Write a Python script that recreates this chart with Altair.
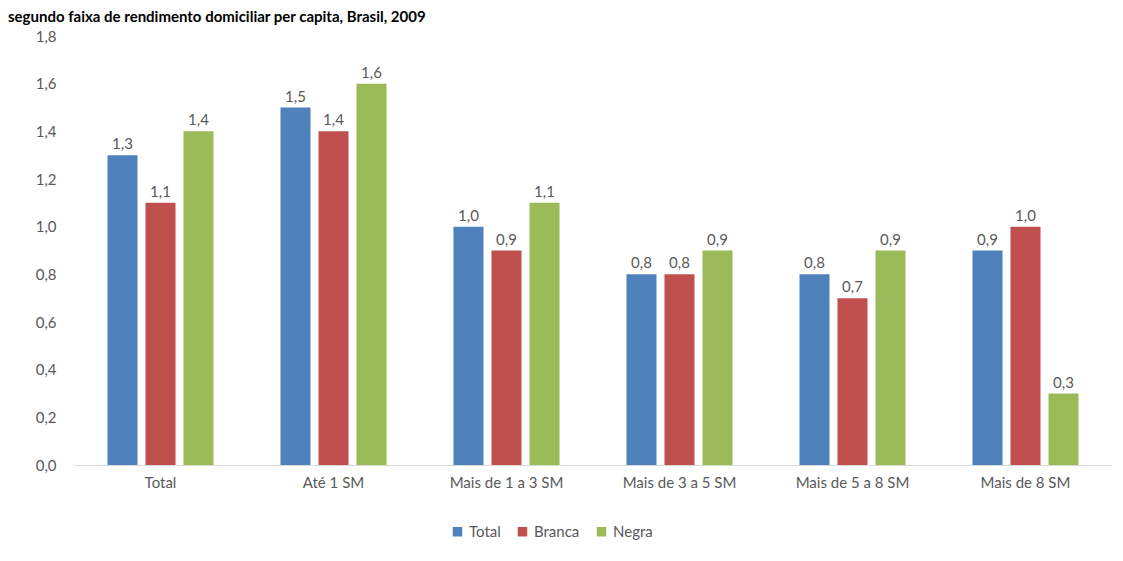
import altair as alt
import pandas as pd

categories = ["Total", "Até 1 SM", "Mais de 1 a 3 SM", "Mais de 3 a 5 SM", "Mais de 5 a 8 SM", "Mais de 8 SM"]
series = ["Total", "Branca", "Negra"]
total = [1.3, 1.5, 1.0, 0.8, 0.8, 0.9]
branca = [1.1, 1.4, 0.9, 0.8, 0.7, 1.0]
negra = [1.4, 1.6, 1.1, 0.9, 0.9, 0.3]
colors = ["#4F81BD", "#C0504D", "#9BBB59"]
title_text = "segundo faixa de rendimento domiciliar per capita, Brasil, 2009"

rows = []
for s, vals in zip(series, [total, branca, negra]):
    for c, v in zip(categories, vals):
        rows.append({"cat": c, "serie": s, "valor": v, "rotulo": f"{v:.1f}".replace(".", ",")})
df = pd.DataFrame(rows)

FONT = "Lato"
GRAY = "#595959"

x = alt.X("cat:N", sort=categories, title=None,
          scale=alt.Scale(paddingInner=0.387, paddingOuter=0.1935),
          axis=alt.Axis(labelAngle=0, ticks=False, domainColor="#d9d9d9", labelPadding=10,
                        labelFontSize=15, labelColor=GRAY, labelFont=FONT))
xo = alt.XOffset("serie:N", sort=series, scale=alt.Scale(paddingInner=0.21, paddingOuter=0))

base = alt.Chart(df).encode(x=x, xOffset=xo)

bars = base.mark_bar().encode(
    y=alt.Y("valor:Q", title=None,
            scale=alt.Scale(domain=[0, 1.8], nice=False),
            axis=alt.Axis(values=[0, 0.2, 0.4, 0.6, 0.8, 1.0, 1.2, 1.4, 1.6, 1.8],
                          labelExpr="replace(format(datum.value, '.1f'), '.', ',')",
                          grid=False, ticks=False, domain=False, labelPadding=18,
                          labelFontSize=15, labelColor=GRAY, labelFont=FONT)),
    color=alt.Color("serie:N", sort=series,
                    scale=alt.Scale(domain=series, range=colors),
                    legend=alt.Legend(orient="none", legendX=376, legendY=488,
                                      direction="horizontal", title=None, symbolType="square",
                                      symbolSize=90, labelFontSize=15, labelColor=GRAY,
                                      labelFont=FONT, columnPadding=14,
                                      symbolStrokeWidth=0)),
)

labels = base.mark_text(dy=-11, fontSize=15, color=GRAY, font=FONT).encode(
    y="valor:Q",
    text="rotulo:N",
)

chart = alt.layer(bars, labels).properties(
    width=1038, height=429,
    padding={"left": 66, "top": 28, "right": 0, "bottom": 86},
    autosize=alt.AutoSizeParams(type="none"),
    title=alt.TitleParams(title_text, anchor="start", frame="group", dx=-66, offset=4,
                          fontSize=15, fontWeight="bold", font=FONT, color="#000000"),
).configure_view(stroke=None)

chart.save("out.html", embed_options={"renderer": "svg", "actions": False})
